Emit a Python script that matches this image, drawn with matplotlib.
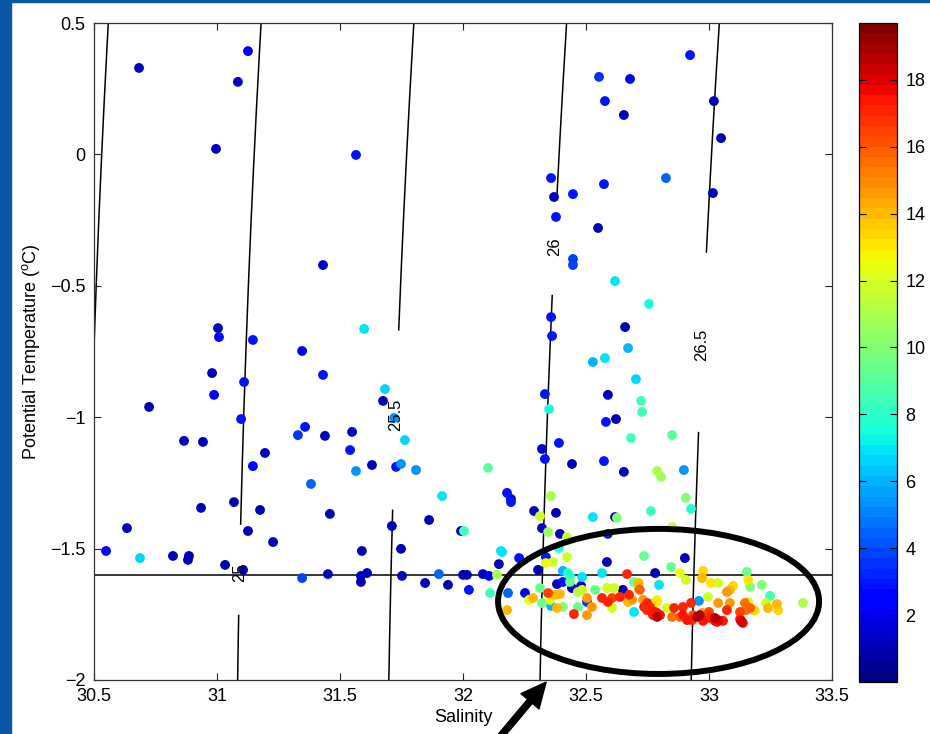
import numpy as np
import matplotlib
matplotlib.use('Agg')
import matplotlib.pyplot as plt
from matplotlib.patches import Ellipse, Rectangle

plt.rcParams['font.family'] = ['Liberation Sans', 'DejaVu Sans']
plt.rcParams['mathtext.fontset'] = 'custom'
plt.rcParams['mathtext.rm'] = 'Liberation Sans'

# salinity, potential temperature, colour value of each sample
salinity = [
    30.683, 31.126, 31.085, 30.996, 31.565, 31.431, 32.923, 32.553, 32.679, 32.577,
    32.654, 33.020, 33.049, 32.358, 32.370, 32.447, 32.573, 32.825, 33.016, 32.378,
    32.549, 32.447, 32.447, 32.618, 32.756, 32.358, 32.659, 32.362, 32.671, 32.528,
    32.577, 32.703, 32.333, 32.589, 32.350, 32.724, 32.728, 32.581, 32.622, 32.683,
    32.850, 32.390, 32.321, 32.333, 32.443, 32.573, 32.654, 32.789, 32.805, 32.898,
    32.102, 32.179, 32.195, 32.195, 32.358, 32.906, 32.927, 32.289, 32.378, 32.764,
    32.528, 32.618, 32.626, 32.313,
    31.004, 31.008, 31.146, 31.346, 30.980, 31.110, 30.988, 30.724, 31.098, 31.358,
    31.329, 30.866, 30.943, 31.195, 31.146, 31.382, 31.069, 30.935, 31.175, 30.634,
    31.126, 31.228, 30.549, 30.687, 30.821, 30.886, 30.882, 31.033, 31.106, 31.346,
    31.598, 31.431, 31.683, 31.675, 31.720, 31.439, 31.549, 31.764, 31.541, 31.630,
    31.728, 31.748, 31.565, 31.809, 31.915, 31.459, 31.862, 31.711, 32.004, 31.992,
    31.589, 31.748, 32.154, 32.146, 31.451, 31.585, 31.585, 31.610, 31.752, 31.902,
    32.000, 32.016, 32.081, 32.106, 32.138, 31.846, 31.939, 32.024, 32.110, 32.183,
    32.228, 32.252, 32.285,
    32.321, 32.346, 32.394, 32.423, 32.850, 32.589, 32.159, 32.337, 32.390, 32.423,
    32.366, 32.337, 32.305, 32.406, 32.427, 32.435, 32.484, 32.565, 32.585, 32.736,
    32.846, 32.902, 32.781, 32.667, 32.882, 32.906, 32.976, 32.972, 33.008, 33.037,
    33.154, 33.159, 33.215, 33.167, 33.098, 33.085, 33.073, 33.248, 33.232, 33.276,
    33.240, 33.281, 33.382, 33.159, 33.146, 33.150, 33.183, 33.126, 33.073, 33.037,
    32.996, 33.000, 33.037, 33.057, 33.130, 33.138, 32.963, 32.951, 32.935, 32.927,
    32.959, 32.894, 32.858, 32.829, 32.894, 32.911, 32.976, 33.024, 32.882, 32.850,
    32.801, 32.772, 32.760, 32.736, 32.732, 32.772, 32.789, 32.715, 32.715, 32.695,
    32.695, 32.687, 32.671, 32.650, 32.638, 32.606, 32.606, 32.589, 32.565, 32.585,
    32.614, 32.537, 32.504, 32.504, 32.524, 32.504, 32.451, 32.467, 32.484, 32.480,
    32.443, 32.435, 32.406, 32.382, 32.394, 32.374, 32.354, 32.346, 32.313, 32.321,
    32.358, 32.382, 32.406, 32.268, 32.179, 32.467, 32.675, 32.748, 32.748, 32.781,
    32.789, 32.719, 32.797, 32.789, 32.789, 32.931, 33.002, 33.024, 33.033, 33.126,
    33.134, 32.972, 33.085, 33.167, 33.187,
]
temperature = [
    0.329, 0.393, 0.276, 0.021, -0.002, -0.421, 0.378, 0.295, 0.287, 0.203,
    0.150, 0.203, 0.062, -0.090, -0.162, -0.151, -0.113, -0.090, -0.147, -0.238,
    -0.280, -0.398, -0.421, -0.482, -0.569, -0.619, -0.657, -0.691, -0.737, -0.790,
    -0.775, -0.855, -0.912, -0.915, -0.969, -0.938, -0.980, -1.018, -1.007, -1.079,
    -1.068, -1.098, -1.121, -1.159, -1.178, -1.167, -1.208, -1.205, -1.227, -1.201,
    -1.193, -1.288, -1.323, -1.311, -1.300, -1.307, -1.349, -1.357, -1.364, -1.357,
    -1.380, -1.380, -1.383, -1.376,
    -0.661, -0.695, -0.706, -0.748, -0.832, -0.866, -0.915, -0.961, -1.007, -1.037,
    -1.068, -1.090, -1.094, -1.136, -1.186, -1.254, -1.323, -1.345, -1.353, -1.422,
    -1.433, -1.475, -1.509, -1.536, -1.528, -1.528, -1.543, -1.562, -1.581, -1.612,
    -0.664, -0.839, -0.893, -0.938, -1.003, -1.071, -1.056, -1.087, -1.125, -1.182,
    -1.189, -1.178, -1.205, -1.201, -1.300, -1.368, -1.391, -1.414, -1.433, -1.433,
    -1.509, -1.501, -1.509, -1.559, -1.597, -1.604, -1.627, -1.593, -1.604, -1.597,
    -1.600, -1.600, -1.597, -1.604, -1.600, -1.631, -1.638, -1.657, -1.669, -1.669,
    -1.536, -1.669, -1.688,
    -1.422, -1.437, -1.444, -1.456, -1.418, -1.444, -1.513, -1.532, -1.498, -1.532,
    -1.551, -1.555, -1.581, -1.585, -1.593, -1.604, -1.608, -1.593, -1.551, -1.528,
    -1.570, -1.536, -1.593, -1.597, -1.593, -1.619, -1.585, -1.612, -1.631, -1.631,
    -1.589, -1.619, -1.638, -1.646, -1.642, -1.657, -1.665, -1.680, -1.707, -1.711,
    -1.726, -1.734, -1.707, -1.703, -1.707, -1.734, -1.734, -1.741, -1.734, -1.707,
    -1.684, -1.741, -1.772, -1.775, -1.775, -1.783, -1.753, -1.760, -1.753, -1.707,
    -1.699, -1.722, -1.726, -1.726, -1.753, -1.772, -1.775, -1.775, -1.760, -1.760,
    -1.753, -1.753, -1.722, -1.722, -1.695, -1.707, -1.695, -1.631, -1.654, -1.627,
    -1.741, -1.695, -1.703, -1.657, -1.684, -1.726, -1.688, -1.703, -1.688, -1.650,
    -1.650, -1.657, -1.688, -1.703, -1.722, -1.753, -1.749, -1.722, -1.657, -1.642,
    -1.650, -1.627, -1.627, -1.635, -1.673, -1.676, -1.695, -1.669, -1.650, -1.707,
    -1.718, -1.726, -1.722, -1.695, -1.734, -1.665, -1.676, -1.707, -1.734, -1.741,
    -1.760, -1.657, -1.638, -1.703, -1.745, -1.772, -1.764, -1.764, -1.779, -1.768,
    -1.779, -1.745, -1.707, -1.726, -1.737,
]
cval = [
    1, 2.5, 1.5, 1.5, 3, 1.5, 3, 3.5, 2.5, 3,
    1, 1, 1, 3, 1, 3, 3, 4.5, 1, 3,
    1, 4, 4, 7, 7.5, 3, 1, 3, 6, 6,
    7, 6.5, 3, 1, 7.5, 8.5, 8.5, 3, 1, 8.5,
    9, 3, 1, 3, 1, 3, 1, 11, 10.5, 5.5,
    9, 3, 3, 1, 11, 10, 8, 1, 1, 8.5,
    7, 1, 10, 12,
    1, 2.5, 3, 2, 1, 3, 2.5, 1, 3, 3,
    3.5, 1, 1, 1, 2.5, 4.5, 1, 1, 1, 1,
    1, 1, 2.5, 6.5, 1, 1, 1, 1, 1, 4,
    7, 3, 6.5, 1, 5.5, 1, 1, 6.5, 3, 1,
    3, 5.5, 5.5, 5.5, 7, 1, 1, 1, 8.5, 1,
    1, 1, 7, 1, 1, 1, 1, 1, 1, 4.5,
    1, 1, 1, 2.5, 11, 1, 1, 3, 8.5, 4.5,
    3, 2, 14,
    1, 10.5, 1, 12, 12, 3, 7, 3, 8, 12,
    12, 12.5, 1, 6, 8, 8, 7, 7, 1, 9.5,
    9.5, 1, 1, 17, 12.5, 12, 13.5, 14, 13, 12,
    9.5, 13, 10, 10, 13.5, 14, 14.5, 8.5, 12, 14,
    14, 13.5, 11, 12, 15.5, 15.5, 13.5, 16.5, 17, 14.5,
    12, 16.5, 18, 17.5, 18, 17.5, 18.5, 19, 16.5, 17,
    5.5, 17, 17, 12, 17.5, 17.5, 17.5, 17.5, 16, 15.5,
    17.5, 17, 17, 17, 14.5, 9.5, 12.5, 14, 14.5, 9.5,
    7, 14.5, 14, 1, 17, 12, 16.5, 17, 17, 12,
    12, 9.5, 14.5, 3.5, 14.5, 14.5, 17, 9.5, 12, 1,
    1, 9.5, 3, 1, 14, 14, 12.5, 16.5, 9.5, 9.5,
    6, 14, 10, 12.5, 14, 11, 17, 17, 17, 17.5,
    18.5, 16, 7, 13, 17, 17, 17, 18.5, 17.5, 17,
    18, 14.5, 14.5, 16, 12,
]

# isopycnals (sigma-theta) and where their labels sit
sigma_levels = [24.5, 25.0, 25.5, 26.0, 26.5]
label_T = [None, -1.59, -0.99, -0.35, -0.725]
gap_T = [None, (-1.75, -1.41), (-1.353, -0.668), (-0.535, -0.173), (-1.056, -0.375)]
label_txt = ['', '25', '25.5', '26', '26.5']


def sigma0(S, T):
    # UNESCO 1983 density at zero pressure, minus 1000
    rw = (999.842594 + 6.793952e-2 * T - 9.095290e-3 * T**2 + 1.001685e-4 * T**3
          - 1.120083e-6 * T**4 + 6.536332e-9 * T**5)
    A = 8.24493e-1 - 4.0899e-3 * T + 7.6438e-5 * T**2 - 8.2467e-7 * T**3 + 5.3875e-9 * T**4
    B = -5.72466e-3 + 1.0227e-4 * T - 1.6546e-6 * T**2
    return rw + A * S + B * S**1.5 + 4.8314e-4 * S**2 - 1000.0


fig = plt.figure(figsize=(9.3, 7.34), dpi=100)
# blue frame of the slide
fig.patches.append(Rectangle((0, 0), 11 / 930, 1, transform=fig.transFigure,
                             color='#0b56a4', zorder=0))
fig.patches.append(Rectangle((0, 1 - 2 / 734), 1, 2 / 734, transform=fig.transFigure,
                             color='#0b56a4', zorder=0))

ax = fig.add_axes([94 / 930, 54 / 734, 738 / 930, 657 / 734])
cax = fig.add_axes([859 / 930, 52 / 734, 38 / 930, 659 / 734])

S_grid = np.linspace(30.0, 34.0, 2001)
T_line = np.linspace(-2.05, 0.55, 300)
for lev, lt, gap, txt in zip(sigma_levels, label_T, gap_T, label_txt):
    S_line = np.array([np.interp(lev, sigma0(S_grid, t), S_grid) for t in T_line])
    T_plot = T_line.copy()
    if gap is not None:
        T_plot[(T_line > gap[0]) & (T_line < gap[1])] = np.nan
    ax.plot(S_line, T_plot, color='k', lw=1.1, zorder=1)
    if lt is not None:
        s_lab = np.interp(lev, sigma0(S_grid, lt), S_grid)
        ax.text(s_lab, lt, txt, rotation=90, ha='center', va='center', fontsize=12)

ax.axhline(-1.6, color='k', lw=1.1, zorder=1)

order = np.argsort(cval, kind='stable')
sc = ax.scatter(np.array(salinity)[order], np.array(temperature)[order],
                c=np.array(cval)[order], cmap=plt.get_cmap('jet', 64),
                vmin=0, vmax=19.7, s=50, edgecolors='none', zorder=2)

ell = Ellipse((32.795, -1.701), 1.305, 0.552, fill=False, ec='k', lw=4.3,
              zorder=3, clip_on=False)
ax.add_patch(ell)

ax.annotate('', xy=(32.345, -2.0), xycoords='data',
            xytext=(0.527, -0.02), textcoords='figure fraction',
            arrowprops=dict(arrowstyle='simple,head_length=1.8,head_width=1.7,tail_width=0.45',
                            mutation_scale=10, fc='k', ec='k'),
            annotation_clip=False, zorder=4)

ax.set_xlim(30.5, 33.5)
ax.set_ylim(-2, 0.5)
ax.set_xticks([30.5, 31, 31.5, 32, 32.5, 33, 33.5])
ax.set_xticklabels(['30.5', '31', '31.5', '32', '32.5', '33', '33.5'])
ax.set_yticks([-2, -1.5, -1, -0.5, 0, 0.5])
ax.set_yticklabels(['\u22122', '\u22121.5', '\u22121', '\u22120.5', '0', '0.5'])
ax.tick_params(direction='in', length=5, width=0.8, top=True, right=True,
               labelsize=13, pad=6, colors='#222222', labelcolor='k')
for sp in ax.spines.values():
    sp.set_linewidth(0.9)
    sp.set_color('#333333')
ax.set_xlabel('Salinity', fontsize=13, labelpad=3)
ax.set_ylabel('Potential Temperature ($^\\mathrm{o}$C)', fontsize=13, labelpad=6)

cb = fig.colorbar(sc, cax=cax, ticks=[2, 4, 6, 8, 10, 12, 14, 16, 18])
cb.ax.tick_params(direction='in', length=5, width=0.8, left=True, right=True,
                  labelsize=13, pad=6)
cb.outline.set_linewidth(0.9)

fig.savefig('out.png', dpi=100)
